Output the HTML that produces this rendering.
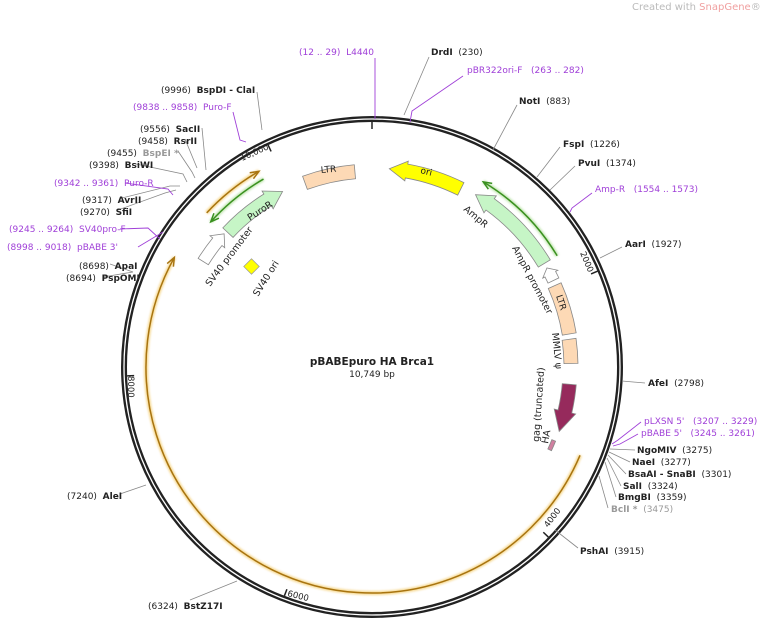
<!DOCTYPE html>
<html><head><meta charset="utf-8">
<style>
html,body{margin:0;padding:0;background:#fff;}
svg{display:block;font-family:"DejaVu Sans","Liberation Sans",sans-serif;}
text{white-space:pre;}
.l{font-size:9px;fill:#222;}
.b{font-weight:bold;}
.p{fill:#a040d8;}
.g{fill:#999;}
.f{font-size:9.5px;fill:#222;}
</style></head>
<body>
<svg id="s" width="760" height="621" viewBox="0 0 760 621" xmlns="http://www.w3.org/2000/svg" xml:space="preserve">
<defs>
<filter id="glow" x="-20%" y="-20%" width="140%" height="140%"><feGaussianBlur stdDeviation="1"/></filter>
</defs>
<text x="632" y="10" font-size="10" fill="#bbb">Created with <tspan fill="#f0a0a0">SnapGene</tspan>®</text>
<g id="dyn"></g>

<g stroke="#888" stroke-width="0.8" fill="none">
<line x1="429" y1="57" x2="404" y2="115"/>
<line x1="517" y1="105" x2="493" y2="150"/>
<line x1="560" y1="147" x2="537" y2="177"/>
<line x1="575" y1="166" x2="550" y2="190"/>
<line x1="622" y1="247" x2="600" y2="258"/>
<line x1="645" y1="383" x2="622" y2="381"/>
<line x1="635" y1="450" x2="610" y2="449"/>
<line x1="630" y1="462" x2="609" y2="452"/>
<line x1="626" y1="474" x2="608" y2="455"/>
<line x1="621" y1="486" x2="607" y2="458"/>
<line x1="616" y1="497" x2="605" y2="462"/>
<line x1="608" y1="508" x2="599" y2="476"/>
<line x1="578" y1="548" x2="555" y2="530"/>
<line x1="190" y1="600" x2="237" y2="581"/>
<line x1="120" y1="494" x2="146" y2="485"/>
<polyline points="110,264 133,272"/>
<polyline points="103,277 133,272"/>
<polyline points="118,210 165,193 176,190"/>
<polyline points="122,198 170,186 180,186"/>
<polyline points="136,164 183,174 187,182"/>
<polyline points="178,151 192,172 195,178"/>
<polyline points="185,139 197,168"/>
<polyline points="202,128 206,170"/>
<polyline points="257,92 262,130"/>
</g>
<g stroke="#a040d8" stroke-width="0.9" fill="none">
<line x1="375" y1="58" x2="375" y2="119"/>
<polyline points="463,76 412,111 410,122"/>
<polyline points="592,193 572,208 570,212"/>
<polyline points="641,422 618,440 612,444"/>
<polyline points="638,434 620,444 613,446"/>
<polyline points="138,247 163,232"/>
<polyline points="120,229 148,228 160,239"/>
<polyline points="125,183 168,189 173,195"/>
<polyline points="233,112 240,140 246,142"/>
</g>

<g class="l">
<text x="299" y="55" class="p">(12 .. 29)  L4440</text>
<text x="431" y="55"><tspan class="b">DrdI</tspan>  (230)</text>
<text x="467" y="73" class="p">pBR322ori-F   (263 .. 282)</text>
<text x="519" y="104"><tspan class="b">NotI</tspan>  (883)</text>
<text x="563" y="147"><tspan class="b">FspI</tspan>  (1226)</text>
<text x="578" y="166"><tspan class="b">PvuI</tspan>  (1374)</text>
<text x="595" y="192" class="p">Amp-R   (1554 .. 1573)</text>
<text x="625" y="247"><tspan class="b">AarI</tspan>  (1927)</text>
<text x="648" y="386"><tspan class="b">AfeI</tspan>  (2798)</text>
<text x="644" y="424" class="p">pLXSN 5'   (3207 .. 3229)</text>
<text x="641" y="436" class="p">pBABE 5'   (3245 .. 3261)</text>
<text x="637" y="453"><tspan class="b">NgoMIV</tspan>  (3275)</text>
<text x="632" y="465"><tspan class="b">NaeI</tspan>  (3277)</text>
<text x="628" y="477"><tspan class="b">BsaAI - SnaBI</tspan>  (3301)</text>
<text x="623" y="489"><tspan class="b">SalI</tspan>  (3324)</text>
<text x="618" y="500"><tspan class="b">BmgBI</tspan>  (3359)</text>
<text x="611" y="512" class="g"><tspan class="b">BclI *</tspan>  (3475)</text>
<text x="580" y="554"><tspan class="b">PshAI</tspan>  (3915)</text>
<text x="148" y="609">(6324)  <tspan class="b">BstZ17I</tspan></text>
<text x="67" y="499">(7240)  <tspan class="b">AleI</tspan></text>
<text x="79" y="269">(8698)  <tspan class="b">ApaI</tspan></text>
<text x="66" y="281">(8694)  <tspan class="b">PspOMI</tspan></text>
<text x="7" y="250" class="p">(8998 .. 9018)  pBABE 3'</text>
<text x="9" y="232" class="p">(9245 .. 9264)  SV40pro-F</text>
<text x="80" y="215">(9270)  <tspan class="b">SfiI</tspan></text>
<text x="82" y="203">(9317)  <tspan class="b">AvrII</tspan></text>
<text x="54" y="186" class="p">(9342 .. 9361)  Puro-R</text>
<text x="89" y="168">(9398)  <tspan class="b">BsiWI</tspan></text>
<text x="107" y="156">(9455)  <tspan class="b g">BspEI *</tspan></text>
<text x="138" y="144">(9458)  <tspan class="b">RsrII</tspan></text>
<text x="140" y="132">(9556)  <tspan class="b">SacII</tspan></text>
<text x="133" y="110" class="p">(9838 .. 9858)  Puro-F</text>
<text x="161" y="93">(9996)  <tspan class="b">BspDI - ClaI</tspan></text>
<text x="372" y="365" text-anchor="middle" class="b" font-size="10.5">pBABEpuro HA Brca1</text>
<text x="372" y="377" text-anchor="middle">10,749 bp</text>
</g>
<g font-size="8.5" fill="#222">
<text transform="translate(242,161) rotate(-24)">10,000</text>
<text transform="translate(580,253) rotate(67)">2000</text>
<text transform="translate(548,528) rotate(-53)">4000</text>
<text transform="translate(287,596) rotate(14)">6000</text>
<text transform="translate(128,376) rotate(90)">8000</text>
</g>
<g class="f">
<text transform="translate(420,173) rotate(14)" font-size="9">ori</text>
<text transform="translate(321,173) rotate(-5)" font-size="9">LTR</text>
<text transform="translate(463,210) rotate(40)">AmpR</text>
<text transform="translate(512,248) rotate(62)">AmpR promoter</text>
<text transform="translate(556,296) rotate(72)" font-size="9">LTR</text>
<text transform="translate(552,333) rotate(84)">MMLV ψ</text>
<text transform="translate(539,442) rotate(-86)">gag (truncated)</text>
<text transform="translate(548,444) rotate(-80)">HA</text>
<text transform="translate(250,221) rotate(-33)">PuroR</text>
<text transform="translate(210,287) rotate(-53)">SV40 promoter</text>
<text transform="translate(258,297) rotate(-58)">SV40 ori</text>
</g>
<rect x="246" y="261" width="11" height="11" fill="#ffff00" stroke="#999" stroke-width="0.7" transform="rotate(45 251.5 266.5)"/>
</svg>
<script>
var cx=372,cy=367,NS="http://www.w3.org/2000/svg",g=document.getElementById("dyn");
function P(r,a){a=a*Math.PI/180;return [cx+r*Math.sin(a),cy-r*Math.cos(a)];}
function f(p){return p[0].toFixed(2)+","+p[1].toFixed(2);}
function add(tag,at){var e=document.createElementNS(NS,tag);for(var k in at)e.setAttribute(k,at[k]);g.appendChild(e);return e;}
function arc(r,a1,a2){var s=P(r,a1),e=P(r,a2),large=Math.abs(a2-a1)>180?1:0,sw=a2>a1?1:0;return "M"+f(s)+" A"+r+","+r+" 0 "+large+","+sw+" "+f(e);}
function box(r,w,a1,a2,fill){var o=r+w/2,i=r-w/2;var d="M"+f(P(o,a1))+" A"+o+","+o+" 0 0,1 "+f(P(o,a2))+" L"+f(P(i,a2))+" A"+i+","+i+" 0 0,0 "+f(P(i,a1))+"Z";add("path",{d:d,fill:fill,stroke:"#888","stroke-width":0.8});}
function arrow(r,w,tail,tip,hl,hw,fill){var dir=tip>tail?1:-1;var base=tip-dir*hl;var o=r+w/2,i=r-w/2,ho=r+hw/2,hi=r-hw/2;
var sw=dir>0?1:0,sw2=dir>0?0:1;
var d="M"+f(P(o,tail))+" A"+o+","+o+" 0 0,"+sw+" "+f(P(o,base))+" L"+f(P(ho,base))+" L"+f(P(r,tip))+" L"+f(P(hi,base))+" L"+f(P(i,base))+" A"+i+","+i+" 0 0,"+sw2+" "+f(P(i,tail))+"Z";
add("path",{d:d,fill:fill,stroke:"#888","stroke-width":0.8});}
function line(r,a1,a2,col,glow){add("path",{d:arc(r,a1,a2),fill:"none",stroke:glow,"stroke-width":4,opacity:0.7,filter:"url(#glow)"});
add("path",{d:arc(r,a1,a2),fill:"none",stroke:col,"stroke-width":1.5});
var dir=a2>a1?1:-1,t=P(r,a2),b1=P(r+3.5,a2-dir*2.2),b2=P(r-3.5,a2-dir*2.2);
add("path",{d:"M"+f(b1)+" L"+f(t)+" L"+f(b2),fill:"none",stroke:col,"stroke-width":1.5});}
add("circle",{cx:cx,cy:cy,r:248,fill:"none",stroke:"#222","stroke-width":6});
add("circle",{cx:cx,cy:cy,r:248,fill:"none",stroke:"#fff","stroke-width":1.3});
[0,2000,4000,6000,8000,10000].forEach(function(p){var a=p/10749*360;add("path",{d:"M"+f(P(245,a))+" L"+f(P(238,a)),stroke:"#222","stroke-width":1.5});});
line(226,113,299,"#a87410","#f3c860");
line(226,313,330,"#a87410","#f3c860");
line(216,59,31,"#3a9020","#a8dc90");
line(217,330,312,"#3a9020","#a8dc90");
arrow(199,14,26.5,5,5,20,"#ffff00");
box(196,14,340,355,"#fdd9b5");
arrow(201,14,59,31,5,21,"#c6f5c6");
arrow(201,12,64.5,60.5,2,17,"#fff");
box(200,14,66,80.5,"#fdd9b5");
box(199,14,82,89,"#fdd9b5");
arrow(198,14,95,109,6,22,"#962a5c");
box(196,4,112,115,"#d080a0");
arrow(197,14,313,333,5,21,"#c6f5c6");
arrow(199,12,302,312,3,19,"#fff");
</script>
</body></html>
